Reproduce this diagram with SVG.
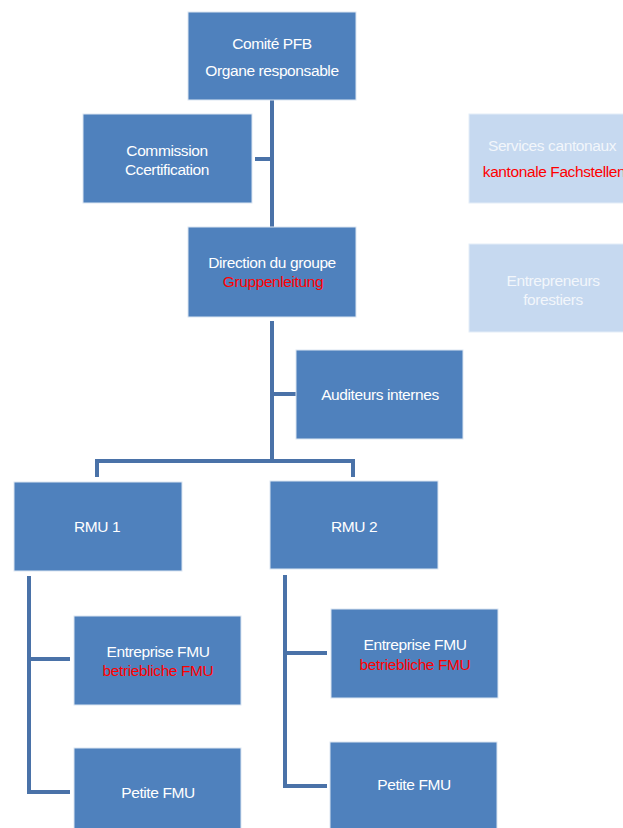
<svg xmlns="http://www.w3.org/2000/svg" width="623" height="828" viewBox="0 0 623 828">
<style>
.box{fill:#4F81BD;stroke:#DCE6F2;stroke-width:1}
.lbox{fill:#C6D9F0;stroke:#E4EDF8;stroke-width:1}
.t{font-family:"Liberation Sans",Arial,sans-serif;font-size:15.5px;fill:#FFFFFF;text-anchor:middle;letter-spacing:-0.4px}
.r{fill:#FF0000}
.lt{fill:#F2F6FB}
.c{fill:none;stroke:#4A72A8;stroke-width:4}
</style>
<rect width="623" height="828" fill="#FFFFFF"/>
<g id="connectors">
<path class="c" d="M272 100 V228"/>
<path class="c" d="M255 159 H272"/>
<path class="c" d="M272 321 V460"/>
<path class="c" d="M272 394 H296"/>
<path class="c" d="M97 477 V461 H353 V477"/>
<path class="c" d="M29 576 V792 H70"/>
<path class="c" d="M29 659 H70"/>
<path class="c" d="M285 575 V786 H327"/>
<path class="c" d="M285 653 H327"/>
</g>
<g id="comite">
<rect class="box" x="188" y="12" width="168" height="88"/>
<text class="t" x="272" y="49">Comité PFB</text>
<text class="t" x="272" y="76">Organe responsable</text>
</g>
<g id="commission">
<rect class="box" x="83" y="114" width="169" height="89"/>
<text class="t" x="167" y="156">Commission</text>
<text class="t" x="167" y="175">Ccertification</text>
</g>
<g id="services">
<rect class="lbox" x="469" y="114" width="160" height="89"/>
<text class="t lt" x="552" y="151">Services cantonaux</text>
<text class="t r" x="554" y="177">kantonale Fachstellen</text>
</g>
<g id="direction">
<rect class="box" x="188" y="227" width="168" height="90"/>
<text class="t" x="272" y="268">Direction du groupe</text>
<text class="t r" x="273" y="287">Gruppenleitung</text>
</g>
<g id="entrepreneurs">
<rect class="lbox" x="469" y="244" width="160" height="88"/>
<text class="t lt" x="553" y="286">Entrepreneurs</text>
<text class="t lt" x="553" y="305">forestiers</text>
</g>
<g id="auditeurs">
<rect class="box" x="296" y="350" width="167" height="89"/>
<text class="t" x="380" y="400">Auditeurs internes</text>
</g>
<g id="rmu1">
<rect class="box" x="14" y="482" width="168" height="89"/>
<text class="t" x="97" y="532">RMU 1</text>
</g>
<g id="rmu2">
<rect class="box" x="270" y="481" width="168" height="88"/>
<text class="t" x="354" y="532">RMU 2</text>
</g>
<g id="entreprise1">
<rect class="box" x="74" y="616" width="167" height="89"/>
<text class="t" x="158" y="657">Entreprise FMU</text>
<text class="t r" x="158" y="676">betriebliche FMU</text>
</g>
<g id="petite1">
<rect class="box" x="74" y="748" width="167" height="90"/>
<text class="t" x="158" y="798">Petite FMU</text>
</g>
<g id="entreprise2">
<rect class="box" x="331" y="609" width="167" height="89"/>
<text class="t" x="415" y="650">Entreprise FMU</text>
<text class="t r" x="415" y="670">betriebliche FMU</text>
</g>
<g id="petite2">
<rect class="box" x="330" y="742" width="167" height="96"/>
<text class="t" x="414" y="790">Petite FMU</text>
</g>
</svg>
